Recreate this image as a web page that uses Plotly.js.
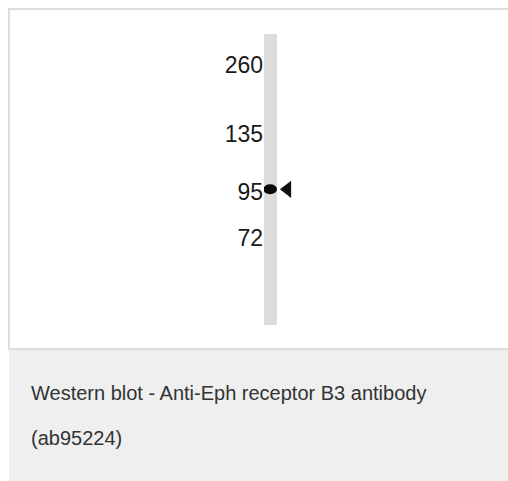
<!DOCTYPE html>
<html>
<head>
<meta charset="utf-8">
<script src="https://cdn.plot.ly/plotly-3.0.1.min.js"></script>
<style>html,body{margin:0;padding:0;background:#fff;}#chart{width:508px;height:481px;}</style>
</head>
<body>
<div id="chart"></div>
<script>
// Lane and migration data (migration distance from the well, arbitrary units)
var laneNames = ["1"];
var laneLength = [291];
var markerLabels = ["260", "135", "95", "72"];
var markerPositions = [30.5, 100, 157.5, 204];
var bandPositions = [155.3];
var bandHalfHeight = [5];
var captionLines = ["Western blot - Anti-Eph receptor B3 antibody", "(ab95224)"];

var W = 508, H = 481;
function px(v) { return v / W; }
function py(v) { return 1 - v / H; }

var lane = {
  type: "bar",
  x: [0],
  y: laneLength,
  base: [0],
  width: [1],
  marker: { color: "#dcdcdc", line: { width: 0 } },
  hoverinfo: "skip",
  showlegend: false
};

var arrow = {
  type: "scatter",
  mode: "markers",
  x: [1.3],
  y: bandPositions,
  marker: { symbol: "triangle-left", size: 15, color: "#111" },
  hoverinfo: "skip",
  showlegend: false
};

var shapes = [
  { type: "rect", xref: "paper", yref: "paper", x0: px(9), x1: px(520), y0: py(349), y1: py(9),
    line: { color: "#dddddd", width: 2 }, fillcolor: "rgba(0,0,0,0)", layer: "below" },
  { type: "rect", xref: "paper", yref: "paper", x0: px(9), x1: px(520), y0: py(485), y1: py(350),
    line: { width: 0 }, fillcolor: "#eeefee", layer: "below" }
];
bandPositions.forEach(function (b, i) {
  shapes.push({ type: "circle", xref: "x", yref: "y", x0: -0.55, x1: 0.5,
    y0: b - bandHalfHeight[i], y1: b + bandHalfHeight[i],
    fillcolor: "#0a0a0a", line: { width: 0 }, layer: "above" });
});

var annotations = captionLines.map(function (t, i) {
  return { xref: "paper", yref: "paper", x: px(29), y: py(i === 0 ? 393 : 438),
    xanchor: "left", yanchor: "middle", showarrow: false, text: t,
    font: { family: "Liberation Sans, Arial, sans-serif", size: 20, color: "#333333" } };
});

var layout = {
  width: W, height: H,
  margin: { l: 0, r: 0, t: 0, b: 0, pad: 0 },
  paper_bgcolor: "#ffffff",
  plot_bgcolor: "rgba(0,0,0,0)",
  showlegend: false,
  xaxis: { domain: [px(264), px(264 + 13 * 2.5)], range: [-0.5, 2.0], visible: false, fixedrange: true },
  yaxis: {
    domain: [py(325), py(34)],
    range: [laneLength[0], 0],
    tickmode: "array",
    tickvals: markerPositions,
    ticktext: markerLabels,
    ticks: "",
    showgrid: false, zeroline: false, showline: false,
    ticklabelstandoff: 0,
    tickfont: { family: "Liberation Sans, Arial, sans-serif", size: 23, color: "#1a1a1a" }
  },
  shapes: shapes,
  annotations: annotations,
  bargap: 0
};

Plotly.newPlot("chart", [lane, arrow], layout, { staticPlot: true, displayModeBar: false });
</script>
</body>
</html>
